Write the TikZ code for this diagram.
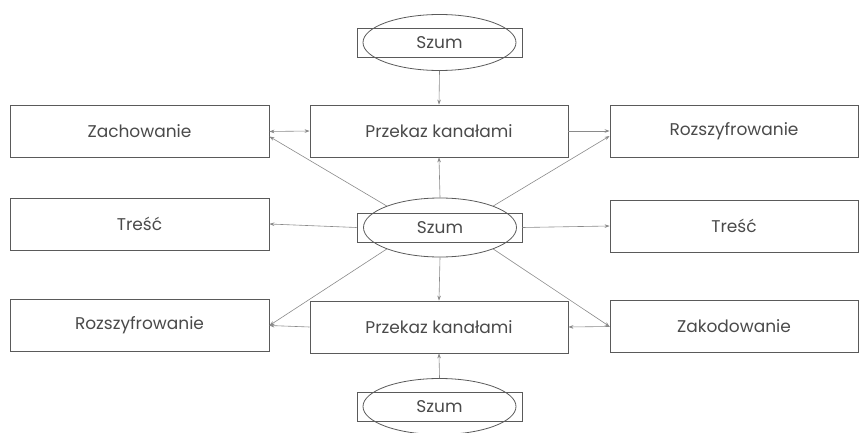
\documentclass[tikz,border=0pt]{standalone}
\usepackage{fontspec}
\setmainfont{Poppins}
\usetikzlibrary{shapes.geometric,arrows.meta,calc}
\definecolor{boxc}{HTML}{5A5A5A}
\definecolor{linec}{HTML}{8A8A8A}
\definecolor{txtc}{HTML}{4A4A4A}
\begin{document}
\begin{tikzpicture}[x=1pt,y=1pt,
  box/.style={draw=boxc,line width=0.8pt,rectangle,minimum height=52pt,inner sep=0pt,text=txtc,font=\fontsize{17}{20}\selectfont},
  szr/.style={draw=boxc,line width=0.8pt,rectangle,minimum width=165pt,minimum height=29pt,inner sep=0pt},
  sze/.style={draw=boxc,line width=0.8pt,ellipse,minimum width=153pt,minimum height=56pt,inner sep=0pt,text=txtc,font=\fontsize{17}{20}\selectfont},
  conn/.style={draw=linec,line width=0.6pt,-{Stealth[length=5pt,width=3.6pt]}},
  conn2/.style={draw=linec,line width=0.6pt,{Stealth[length=5pt,width=3.6pt]}-{Stealth[length=5pt,width=3.6pt]}}]
\useasboundingbox (0,0) rectangle (862,432);
% left column
\node[box,minimum width=259pt] (zach) at (139.5,300.5) {Zachowanie};
\node[box,minimum width=259pt] (tresL) at (139.5,208) {Treść};
\node[box,minimum width=259pt] (rozL) at (139.5,106.5) {Rozszyfrowanie};
% middle
\node[box,minimum width=258pt] (przT) at (439,301) {Przekaz kanałami};
\node[box,minimum width=258pt] (przB) at (439,105) {Przekaz kanałami};
% right column
\node[box,minimum width=248pt] (rozR) at (734,301) {Rozszyfrowanie};
\node[box,minimum width=248pt] (tresR) at (734,206) {Treść};
\node[box,minimum width=248pt] (zak) at (734,105.5) {Zakodowanie};
% Szum
\node[szr] (sz1r) at (439.5,389.5) {};
\node[sze] (sz1) at (439.5,389.5) {Szum};
\node[szr] (sz2r) at (439.5,204.5) {};
\node[sze,minimum height=59pt] (sz2) at (440,204.5) {Szum};
\node[szr] (sz3r) at (439.5,25.5) {};
\node[sze] (sz3) at (439.5,25.5) {Szum};
% connectors
\draw[conn] (sz1.south) -- (przT.north);
\draw[conn] (sz2.north) -- (przT.south);
\draw[conn] (sz2.south) -- (przB.north);
\draw[conn] (sz3.north) -- (przB.south);
\draw[conn2] (zach.east) -- (przT.west);
\draw[conn] (przT.east) -- (rozR.west);
\draw[conn] (sz2.158) -- ($(zach.east)+(0,-5)$);
\draw[conn] (sz2.22) -- ($(rozR.west)+(0,-5)$);
\draw[conn] (sz2r.west) -- (tresL.east);
\draw[conn] (sz2r.east) -- (tresR.west);
\draw[conn] (sz2.202) -- (rozL.east);
\draw[conn] (sz2.338) -- (zak.west);
\draw[conn] (przB.west) -- (rozL.east);
\draw[conn] (zak.west) -- (przB.east);
\end{tikzpicture}
\end{document}
